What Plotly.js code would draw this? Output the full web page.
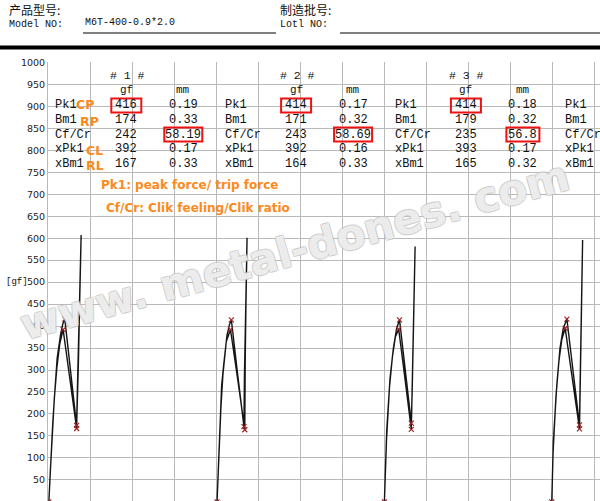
<!DOCTYPE html>
<html>
<head>
<meta charset="utf-8">
<script src="https://cdn.plot.ly/plotly-3.0.1.min.js"></script>
<style>html,body{margin:0;padding:0;background:#fff;}#chart{width:600px;height:501px;}</style>
</head>
<body>
<div id="chart"></div>
<script>
// ---------- DATA ----------
const rowLabels = ['Pk1', 'Bm1', 'Cf/Cr', 'xPk1', 'xBm1'];
const blockTitles = ['# 1 #', '# 2 #', '# 3 #'];
const unitHeaders = ['gf', 'mm'];
const gf1 = [416, 174, 242, 392, 167];
const mm1 = [0.19, 0.33, 58.19, 0.17, 0.33];
const gf2 = [414, 171, 243, 392, 164];
const mm2 = [0.17, 0.32, 58.69, 0.16, 0.33];
const gf3 = [414, 179, 235, 393, 165];
const mm3 = [0.18, 0.32, 56.8, 0.17, 0.32];
const noteLabels = ['CP', 'RP', 'CL', 'RL'];
const noteLines = ['Pk1: peak force/ trip force', 'Cf/Cr: Clik feeling/Clik ratio'];
const yTicks = [50,100,150,200,250,300,350,400,450,500,550,600,650,700,750,800,850,900,950,1000];

// curve start positions (mm on the stroke axis)
const testStart = [0.01, 2.01, 4.0, 5.99];
// curves: relative stroke (mm) and force (gf), forward then return stroke
const test1X = [0,0.024,0.047,0.071,0.099,0.139,0.165,0.19,0.26,0.33,0.34,0.35,0.358,0.37,0.384,
                0.378,0.366,0.352,0.34,0.33,0.25,0.17,0.13,0.095,0.065,0.04,0.018,0];
const test1Y = [0,100,180,250,327,380,404,416,295,174,260,330,420,530,607,
                560,450,320,210,167,280,392,360,305,235,160,70,0];
const test2X = [0,0.014,0.027,0.055,0.079,0.119,0.15,0.17,0.245,0.32,0.326,0.338,0.35,0.357,
                0.352,0.343,0.335,0.33,0.33,0.245,0.16,0.11,0.07,0.045,0.02,0];
const test2Y = [0,80,145,266,312,380,405,414,290,171,289,396,533,601,
                560,440,320,200,164,280,392,365,290,210,100,0];
const test3X = [0,0.027,0.067,0.107,0.146,0.18,0.25,0.32,0.332,0.344,0.355,0.365,
                0.36,0.35,0.34,0.33,0.32,0.245,0.17,0.13,0.095,0.06,0.025,0];
const test3Y = [0,160,281,350,395,414,297,179,266,365,494,581,
                540,430,330,230,165,280,393,375,330,260,140,0];
const test4X = [0,0.019,0.06,0.098,0.137,0.18,0.255,0.33,0.337,0.345,0.357,0.367,
                0.362,0.352,0.342,0.335,0.33,0.245,0.16,0.12,0.085,0.05,0.015,0];
const test4Y = [0,137,266,350,395,416,295,175,266,346,517,596,
                545,430,320,230,166,280,395,370,320,240,110,0];
// test 4 key points (table not visible): Pk1, Bm1, xPk1, xBm1
const gf4 = [416, 175, 395, 166];
const mm4 = [0.18, 0.33, 0.16, 0.33];

// ---------- GEOMETRY ----------
const W = 600, H = 501, L = 48, T = 62;
const PW = W - L, PH = H - T;
const pxPerMm = 84.1, pxPerGf = 0.4394;
const px = v => (v - L) / PW;
const py = v => (H - v) / PH;

const lineColor = '#151515';
const markColor = '#9b2525';
const orange = '#fb8a1c';
const monoFont = 'Liberation Mono, monospace';
const noteFont = 'DejaVu Sans, sans-serif';

const curvesX = [test1X, test2X, test3X, test4X];
const curvesY = [test1Y, test2Y, test3Y, test4Y];
const traces = [];
curvesX.forEach((xs, i) => {
  traces.push({
    x: xs.map(v => v + testStart[i]), y: curvesY[i],
    mode: 'lines', type: 'scatter',
    line: {color: lineColor, width: 1.4}, hoverinfo: 'skip', showlegend: false
  });
});
const keyGf = [[gf1[0], gf1[1], gf1[3], gf1[4]], [gf2[0], gf2[1], gf2[3], gf2[4]], [gf3[0], gf3[1], gf3[3], gf3[4]], gf4];
const keyMm = [[mm1[0], mm1[1], mm1[3], mm1[4]], [mm2[0], mm2[1], mm2[3], mm2[4]], [mm3[0], mm3[1], mm3[3], mm3[4]], mm4];
keyGf.forEach((g, i) => {
  traces.push({
    x: [0].concat(keyMm[i]).map(v => v + testStart[i]), y: [0].concat(g),
    mode: 'markers', type: 'scatter',
    marker: {symbol: 'x-thin-open', size: 5, color: markColor, line: {color: markColor, width: 1.2}},
    hoverinfo: 'skip', showlegend: false
  });
});

// ---------- ANNOTATIONS ----------
const ann = [];
function txt(text, x, y, opt) {
  opt = opt || {};
  ann.push(Object.assign({
    text: text, xref: 'paper', yref: 'paper', x: px(x), y: py(y),
    xanchor: opt.xa || 'center', yanchor: 'middle', showarrow: false,
    font: Object.assign({family: monoFont, size: 12, color: '#111111'}, opt.font || {})
  }, opt.extra || {}));
}
const shapes = [];
function hline(x0, x1, y, w, c) {
  shapes.push({type: 'line', xref: 'paper', yref: 'paper', x0: px(x0), x1: px(x1), y0: py(y), y1: py(y),
    line: {color: c || '#000', width: w}});
}
function box(cx, cy, w, h) {
  shapes.push({type: 'rect', xref: 'paper', yref: 'paper', x0: px(cx - w / 2), x1: px(cx + w / 2),
    y0: py(cy + h / 2), y1: py(cy - h / 2), line: {color: '#ee1111', width: 2}, fillcolor: 'rgba(0,0,0,0)'});
}

// watermark first (drawn beneath other annotations)
const wmLine = 'rgba(195,195,195,0.85)';
txt('www. metal-dones. com', 294, 250, {font: {family: 'DejaVu Sans', size: 42,
  color: 'rgba(255,255,255,0.7)',
  shadow: '1px 1px 0 ' + wmLine + ', -1px -1px 0 ' + wmLine + ', 1px -1px 0 ' + wmLine + ', -1px 1px 0 ' + wmLine},
  extra: {textangle: -15.5, text: '<b>www. metal-dones. com</b>'}});

// header
txt('产品型号:', 7, 9, {xa: 'left', font: {family: 'Noto Sans CJK SC', size: 12}});
txt('Model NO:', 7, 25, {xa: 'left', font: {size: 10}});
txt('M6T-400-0.9*2.0', 83, 23, {xa: 'left', font: {size: 10}});
txt('制造批号:', 278, 9, {xa: 'left', font: {family: 'Noto Sans CJK SC', size: 12}});
txt('Lotl NO:', 278, 25, {xa: 'left', font: {size: 10}});
hline(83, 276, 33, 1);
hline(340, 600, 33, 1);
hline(0, 600, 47.5, 4);

// table
const rowY = [105.5, 120, 134.5, 149, 163.5];
const blockGf = [gf1, gf2, gf3];
const blockMm = [mm1, mm2, mm3];
for (let b = 0; b < 4; b++) {
  const bx = 53.3 + 169.8 * b;
  rowLabels.forEach((lab, r) => txt(lab, bx, rowY[r], {xa: 'left'}));
  if (b < 3) {
    txt(blockTitles[b], bx + 74, 75.5, {font: {size: 11.5}});
    txt(unitHeaders[0], bx + 73, 90, {font: {size: 11}});
    txt(unitHeaders[1], bx + 130, 90, {font: {size: 11}});
    blockGf[b].forEach((v, r) => txt(String(v), bx + 73, rowY[r]));
    blockMm[b].forEach((v, r) => txt(String(v), bx + 130, rowY[r]));
    box(bx + 73, rowY[0], 5 * String(blockGf[b][0]).length + 15, 14);
    box(bx + 130, rowY[2], 5 * String(blockMm[b][2]).length + 13, 14);
  }
}
// orange notes
const noteX = [74, 78, 83.5, 83.5];
const noteY = [104.5, 121.5, 150, 165.5];
noteLabels.forEach((t, i) => txt('<b>' + t + '</b>', noteX[i], noteY[i], {xa: 'left', font: {family: noteFont, size: 12.5, color: orange}}));
txt('<b>' + noteLines[0] + '</b>', 189.5, 185, {font: {family: noteFont, size: 12, color: orange}});
txt('<b>' + noteLines[1] + '</b>', 197.5, 208, {font: {family: noteFont, size: 12, color: orange}});

// axis unit
txt('[gf]', 4, 281.5, {xa: 'left', font: {size: 9}});

const layout = {
  width: W, height: H,
  margin: {l: L, r: 0, t: T, b: 0, pad: 0},
  paper_bgcolor: '#fff', plot_bgcolor: '#fff',
  showlegend: false,
  xaxis: {range: [0, PW / pxPerMm], tick0: 0, dtick: 0.5, showticklabels: false, ticks: '',
    showgrid: true, gridcolor: '#b9b9b9', gridwidth: 1, zeroline: false, showline: false, fixedrange: true},
  yaxis: {range: [1001 - PH / pxPerGf, 1001], tickmode: 'array', tickvals: yTicks, ticktext: yTicks.map(String),
    ticks: '', showgrid: true, gridcolor: '#b9b9b9', gridwidth: 1, zeroline: false,
    showline: true, linecolor: '#b9b9b9', linewidth: 1,
    tickfont: {family: 'DejaVu Sans', size: 9.5, color: '#222'}, fixedrange: true},
  annotations: ann,
  shapes: shapes
};
Plotly.newPlot('chart', traces, layout, {staticPlot: true, displayModeBar: false});
</script>
</body>
</html>
